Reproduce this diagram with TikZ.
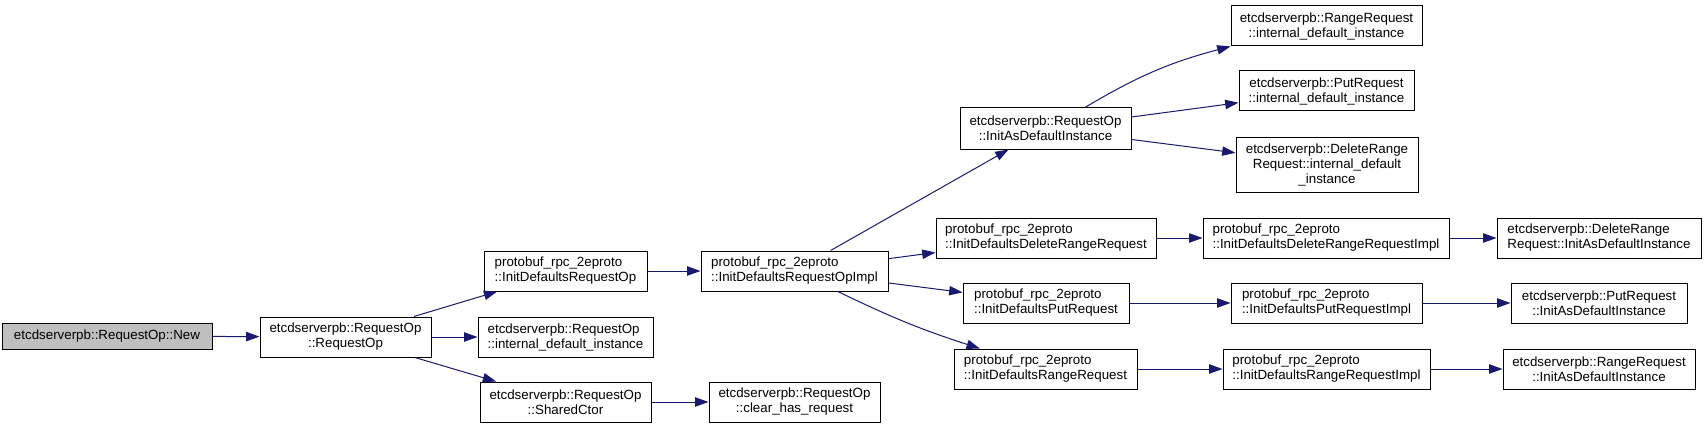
\documentclass[tikz,border=0pt]{standalone}
\usepackage{fontspec}
\setmainfont{Liberation Sans}
\usetikzlibrary{arrows.meta}
\definecolor{edgeblue}{RGB}{25,25,112}
\definecolor{rootgray}{RGB}{191,191,191}

\begin{document}
\begin{tikzpicture}[x=0.75pt, y=-0.75pt,
  fn/.style={draw=black, rectangle, line width=0.75pt, inner sep=0pt, align=center, font=\fontsize{10}{11.25}\selectfont, minimum height=30pt},
  fnl/.style={fn, align=left},
  root/.style={fn, fill=rootgray, minimum height=19.5pt},
  arrow/.style={-{Triangle[length=10pt,width=7pt]}, draw=edgeblue, line width=0.75pt},
]
\useasboundingbox (0,0) rectangle (1707,428);
% --- caller and first level ---
\node[root, minimum width=157.5pt] (new) at (107,336) {etcdserverpb::RequestOp::New};
\node[fn, minimum width=128.25pt] (reqop) at (345.5,337) {etcdserverpb::RequestOp\\::RequestOp};
\node[fnl, minimum width=122.25pt] (initreqop) at (565.5,271) {protobuf\_rpc\_2eproto\\::InitDefaultsRequestOp};
\node[fnl, minimum width=131.25pt] (intinst) at (565.5,337) {etcdserverpb::RequestOp\\::internal\_default\_instance};
\node[fn, minimum width=128.25pt] (sharedctor) at (565.5,402) {etcdserverpb::RequestOp\\::SharedCtor};
\node[fnl, minimum width=140.25pt] (initreqopimpl) at (794.5,271) {protobuf\_rpc\_2eproto\\::InitDefaultsRequestOpImpl};
\node[fn, minimum width=128.25pt] (clearhas) at (794.5,402) {etcdserverpb::RequestOp\\::clear\_has\_request};
% --- InitAsDefaultInstance branch ---
\node[fn, minimum width=128.25pt, minimum height=30.75pt] (initasdef) at (1045.5,128.5) {etcdserverpb::RequestOp\\::InitAsDefaultInstance};
\node[fn, minimum width=143.25pt] (rangeint) at (1326.5,26) {etcdserverpb::RangeRequest\\::internal\_default\_instance};
\node[fn, minimum width=131.25pt] (putint) at (1326.5,91) {etcdserverpb::PutRequest\\::internal\_default\_instance};
\node[fn, minimum width=136.5pt, minimum height=41.25pt] (delint) at (1327,164.5) {etcdserverpb::DeleteRange\\Request::internal\_default\\\_instance};
% --- InitDefaults chains ---
\node[fnl, minimum width=165pt] (initdel) at (1046,238) {protobuf\_rpc\_2eproto\\::InitDefaultsDeleteRangeRequest};
\node[fnl, minimum width=184.5pt] (initdelimpl) at (1326,238) {protobuf\_rpc\_2eproto\\::InitDefaultsDeleteRangeRequestImpl};
\node[fnl, minimum width=153pt] (delinitas) at (1599,238) {etcdserverpb::DeleteRange\\Request::InitAsDefaultInstance};
\node[fnl, minimum width=124.5pt] (initput) at (1046,303) {protobuf\_rpc\_2eproto\\::InitDefaultsPutRequest};
\node[fnl, minimum width=143.25pt] (initputimpl) at (1326.5,303) {protobuf\_rpc\_2eproto\\::InitDefaultsPutRequestImpl};
\node[fn, minimum width=132pt] (putinitas) at (1599,303) {etcdserverpb::PutRequest\\::InitAsDefaultInstance};
\node[fnl, minimum width=137.25pt] (initrange) at (1045.5,369) {protobuf\_rpc\_2eproto\\::InitDefaultsRangeRequest};
\node[fnl, minimum width=155.25pt] (initrangeimpl) at (1326.5,369) {protobuf\_rpc\_2eproto\\::InitDefaultsRangeRequestImpl};
\node[fn, minimum width=144pt] (rangeinitas) at (1599,369) {etcdserverpb::RangeRequest\\::InitAsDefaultInstance};
% --- calls ---
\draw[arrow] (new) -- (reqop);
\draw[arrow] (reqop) -- (initreqop);
\draw[arrow] (reqop) -- (intinst);
\draw[arrow] (reqop) -- (sharedctor);
\draw[arrow] (initreqop) -- (initreqopimpl);
\draw[arrow] (sharedctor) -- (clearhas);
\draw[arrow] (initreqopimpl) -- (initasdef);
\draw[arrow] (initreqopimpl) -- (initdel);
\draw[arrow] (initreqopimpl) -- (initput);
\draw[arrow] (initreqopimpl) to[bend right=4] (initrange);
\draw[arrow] (initasdef) to[bend left=8] (rangeint);
\draw[arrow] (initasdef) -- (putint);
\draw[arrow] (initasdef) -- (delint);
\draw[arrow] (initdel) -- (initdelimpl);
\draw[arrow] (initdelimpl) -- (delinitas);
\draw[arrow] (initput) -- (initputimpl);
\draw[arrow] (initputimpl) -- (putinitas);
\draw[arrow] (initrange) -- (initrangeimpl);
\draw[arrow] (initrangeimpl) -- (rangeinitas);
\end{tikzpicture}
\end{document}
